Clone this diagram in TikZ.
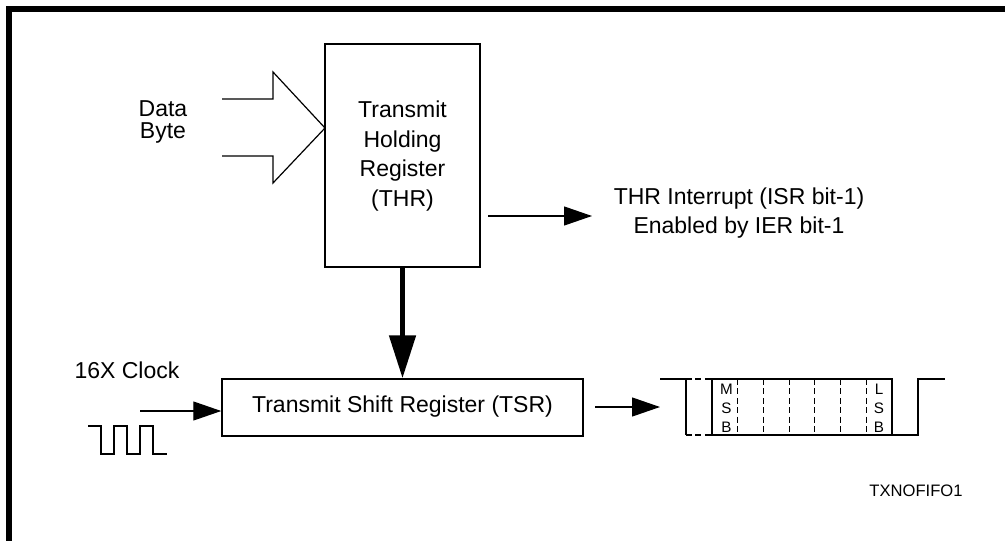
\documentclass[tikz,border=0pt]{standalone}
\usepackage{fontspec}
\setmainfont{Liberation Sans}
\usetikzlibrary{arrows.meta}
\begin{document}
\begin{tikzpicture}[x=0.5pt,y=-0.5pt,
  box/.style={draw,line width=0.75pt,inner sep=0pt},
  txt/.style={font=\fontsize{11.5}{14.75}\selectfont,align=center,inner sep=0pt},
  thinln/.style={line width=0.6pt},
  arr/.style={line width=0.6pt,-{Triangle[length=14pt,width=9.5pt]}},
  bigarr/.style={line width=2.5pt,-{Triangle[length=21.5pt,width=13pt]}},
  small/.style={font=\fontsize{7.6}{9.5}\selectfont,inner sep=0pt,align=center},
  dsh/.style={line width=0.6pt,dash pattern=on 3pt off 1.7pt}]
\useasboundingbox (0,0) rectangle (1005,540);
% frame
\draw[line width=3pt] (1012,9.5) -- (9,9.5) -- (9,548);
% boxes
\node[box,minimum width=77.5pt,minimum height=111.5pt] (thr) at (402.5,155.5) {};
\node[txt] (thrtxt) at (402.5,156) {Transmit\\Holding\\Register\\(THR)};
\node[box,minimum width=180.5pt,minimum height=28.5pt] (tsr) at (402.5,407.5) {};
\node[txt] (tsrtxt) at (402.5,407) {Transmit Shift Register (TSR)};
% data byte
\node[txt,font=\fontsize{11.5}{11}\selectfont] (data) at (163,122) {Data\\Byte};
\coordinate (dtip) at (325,128);
\draw[thinln,line join=miter] (222,99) -- (273,99) -- (273,72) -- (dtip) -- (273,183) -- (273,156) -- (222,156);
% THR to TSR
\draw[bigarr] (thr.south) -- (tsr.north);
% interrupt
\coordinate (ia) at (488,216);
\coordinate (ib) at (592,216);
\draw[arr] (ia) -- (ib);
\node[txt,font=\fontsize{11.5}{14.5}\selectfont] (intr) at (739,213) {THR Interrupt (ISR bit-1)\\Enabled by IER bit-1};
% clock
\node[txt] (clk) at (127,370) {16X Clock};
\coordinate (ca) at (140,411);
\draw[arr] (ca) -- (tsr.west |- ca);
\draw[thinln,line join=miter] (88,426) -- (101,426) -- (101,454) -- (114,454) -- (114,426) -- (127,426) -- (127,454) -- (140,454) -- (140,426) -- (153,426) -- (153,454) -- (167,454);
% output
\coordinate (oa) at (595,407);
\coordinate (ob) at (660,407);
\draw[arr] (oa) -- (ob);
% waveform
\draw[thinln,line join=miter] (660,379) -- (686,379) -- (686,435);
\draw[dsh] (686,379) -- (712,379);
\draw[dsh] (686,435) -- (712,435);
\draw[thinln,line join=miter] (892,435) -- (892,379) -- (712,379) -- (712,435) -- (918,435) -- (918,379) -- (945,379);
\foreach \i in {1,...,6} {
  \draw[dsh] ({712+\i*25.7},379) -- ({712+\i*25.7},435);
}
\node[small] (msb) at (726.5,408) {M\\S\\B};
\node[small] (lsb) at (879,408) {L\\S\\B};
% label
\node[txt,font=\fontsize{8.3}{10}\selectfont] (fig) at (916,491) {TXNOFIFO1};
\end{tikzpicture}
\end{document}
